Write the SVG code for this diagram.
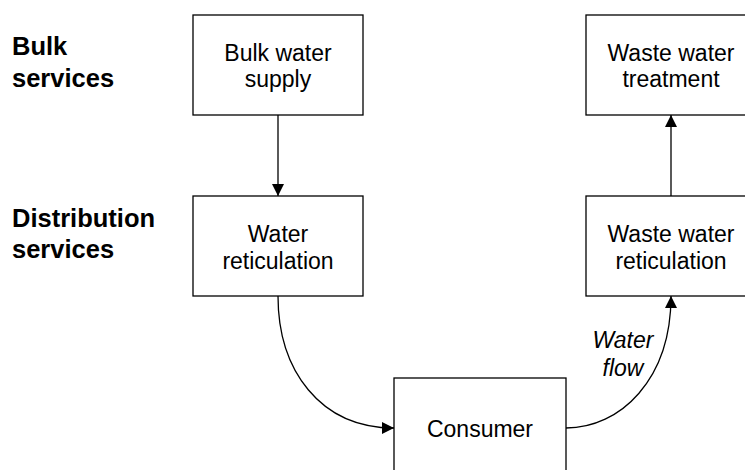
<svg xmlns="http://www.w3.org/2000/svg" width="745" height="470" viewBox="0 0 745 470">
<style>
.box{fill:#fff;stroke:#000;stroke-width:1.3}
.t{font-family:"Liberation Sans",Arial,sans-serif;font-size:23px;fill:#000;text-anchor:middle}
.lbl{font-family:"Liberation Sans",Arial,sans-serif;font-size:25.5px;font-weight:bold;fill:#000}
.it{font-family:"Liberation Sans",Arial,sans-serif;font-size:23px;font-style:italic;fill:#000;text-anchor:middle}
.c{fill:none;stroke:#000;stroke-width:1.3}
</style>
<defs>
<marker id="ah" viewBox="0 0 12 12" refX="12" refY="6" markerWidth="12" markerHeight="12" markerUnits="userSpaceOnUse" orient="auto">
<path d="M0,0 L12,6 L0,12 z" fill="#000"/>
</marker>
</defs>
<rect width="745" height="470" fill="#fff"/>
<g id="labels">
<text class="lbl" x="12" y="55">Bulk</text>
<text class="lbl" x="12" y="87">services</text>
<text class="lbl" x="12" y="227">Distribution</text>
<text class="lbl" x="12" y="258">services</text>
</g>
<g id="connectors">
<path class="c" d="M278,115 L278,196" marker-end="url(#ah)"/>
<path class="c" d="M671,196 L671,115" marker-end="url(#ah)"/>
<path class="c" d="M278,296 C278,370 320,428 394,428" marker-end="url(#ah)"/>
<path class="c" d="M566,428 C620,428 671,380 671,296" marker-end="url(#ah)"/>
<text class="it" x="623" y="348">Water</text>
<text class="it" x="623" y="376">flow</text>
</g>
<g id="bulk-water-supply">
<rect class="box" x="193" y="15" width="170" height="100"/>
<text class="t" x="278" y="61">Bulk water</text>
<text class="t" x="278" y="87">supply</text>
</g>
<g id="waste-water-treatment">
<rect class="box" x="586" y="15" width="171" height="100"/>
<text class="t" x="671" y="61">Waste water</text>
<text class="t" x="671" y="87">treatment</text>
</g>
<g id="water-reticulation">
<rect class="box" x="193" y="196" width="170" height="100"/>
<text class="t" x="278" y="242">Water</text>
<text class="t" x="278" y="269">reticulation</text>
</g>
<g id="waste-water-reticulation">
<rect class="box" x="586" y="196" width="171" height="100"/>
<text class="t" x="671" y="242">Waste water</text>
<text class="t" x="671" y="269">reticulation</text>
</g>
<g id="consumer">
<rect class="box" x="394" y="378" width="172" height="100"/>
<text class="t" x="480" y="437">Consumer</text>
</g>
</svg>
